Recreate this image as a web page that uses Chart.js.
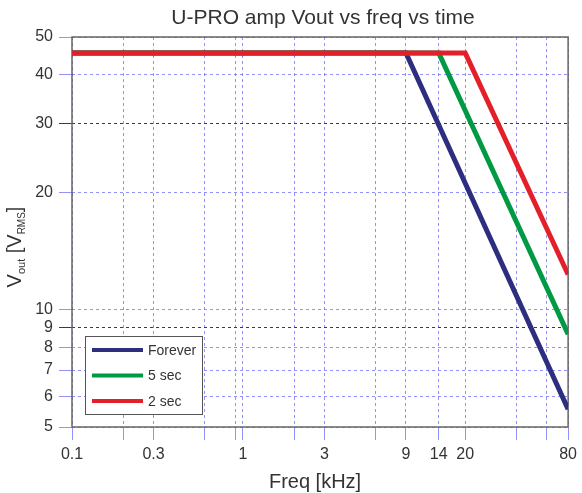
<!DOCTYPE html>
<html>
<head>
<meta charset="utf-8">
<script src="https://cdn.jsdelivr.net/npm/chart.js@4"></script>
<style>
  html, body { margin: 0; padding: 0; background: #fff; }
  #wrap { width: 582px; height: 493px; }
</style>
</head>
<body>
<div id="wrap"><canvas id="chart" width="582" height="493"></canvas></div>
<script>
// Series data (freq in kHz, Vout in V RMS).
const seriesNames = ["Forever", "5 sec", "2 sec"];
const seriesColors = ["#2e2e80", "#009a44", "#e3202a"];
const foreverFreq = [0.1, 9, 80];
const foreverVout = [45.5, 45.5, 5.55];
const fiveSecFreq = [0.1, 14, 80];
const fiveSecVout = [45.5, 45.5, 8.65];
const twoSecFreq = [0.1, 20, 80];
const twoSecVout = [45.5, 45.5, 12.3];

// Axis ticks and grid.
const xGridValues = [0.1, 0.2, 0.3, 0.6, 0.9, 1, 2, 3, 6, 9, 14, 20, 40, 60, 80];
const xTickLabels = [0.1, 0.3, 1, 3, 9, 14, 20, 80];
const yGridValues = [5, 6, 7, 8, 9, 10, 20, 30, 40, 50];
const yDarkLines = [9, 30];

const FONT = "'Liberation Sans', Arial, sans-serif";
const TEXT = "#333333";

function toPoints(xs, ys) {
	return xs.map((x, i) => ({ x: x, y: ys[i] }));
}

const allSeries = [
	toPoints(foreverFreq, foreverVout),
	toPoints(fiveSecFreq, fiveSecVout),
	toPoints(twoSecFreq, twoSecVout)
];

// Frame, title, axis titles and legend box.
const decorations = {
	id: 'decorations',
	beforeDatasetsDraw(chart) {
		const ctx = chart.ctx;
		const a = chart.chartArea;
		ctx.save();
		ctx.strokeStyle = "#666666";
		ctx.lineWidth = 1.5;
		ctx.strokeRect(a.left, a.top, a.right - a.left, a.bottom - a.top);
		ctx.restore();
	},
	afterDatasetsDraw(chart) {
		const ctx = chart.ctx;
		const a = chart.chartArea;
		ctx.save();
		// Title
		ctx.fillStyle = TEXT;
		ctx.font = "21px " + FONT;
		ctx.textAlign = "center";
		ctx.textBaseline = "middle";
		ctx.fillText("U-PRO amp Vout vs freq vs time", (a.left + a.right) / 2 + 3, 18);

		// X title
		ctx.font = "20px " + FONT;
		ctx.fillText("Freq [kHz]", (a.left + a.right) / 2 - 5, 482);

		// Y title with subscripts, rotated
		ctx.save();
		ctx.translate(21, 247);
		ctx.rotate(-Math.PI / 2);
		ctx.textBaseline = "alphabetic";
		const parts = [
			["V", 20, 0], ["out", 11, 4], [" [V", 20, 0], ["RMS", 10, 4], ["]", 20, 0]
		];
		let total = 0;
		for (const p of parts) { ctx.font = p[1] + "px " + FONT; total += ctx.measureText(p[0]).width; }
		let x = -total / 2;
		ctx.textAlign = "left";
		for (const p of parts) {
			ctx.font = p[1] + "px " + FONT;
			ctx.fillText(p[0], x, p[2]);
			x += ctx.measureText(p[0]).width;
		}
		ctx.restore();

		// Legend box
		const bx = 85, by = 336, bw = 117, bh = 78;
		ctx.fillStyle = "#ffffff";
		ctx.fillRect(bx, by, bw, bh);
		ctx.strokeStyle = "#555555";
		ctx.lineWidth = 1;
		ctx.strokeRect(bx + 0.5, by + 0.5, bw, bh);
		ctx.font = "14px " + FONT;
		ctx.textAlign = "left";
		chart.data.datasets.forEach((ds, i) => {
			const ly = by + 14 + i * 25.5;
			ctx.strokeStyle = ds.borderColor;
			ctx.lineWidth = 4;
			ctx.beginPath();
			ctx.moveTo(bx + 7, ly);
			ctx.lineTo(bx + 58, ly);
			ctx.stroke();
			ctx.fillStyle = TEXT;
			ctx.fillText(ds.label, bx + 63, ly + 1);
		});
		ctx.restore();
	}
};

new Chart(document.getElementById('chart'), {
	type: 'line',
	data: {
		datasets: allSeries.map((pts, i) => ({
			label: seriesNames[i],
			data: pts,
			borderColor: seriesColors[i],
			backgroundColor: seriesColors[i],
			borderWidth: 5,
			pointRadius: 0,
			fill: false,
			tension: 0,
			order: 3 - i
		}))
	},
	options: {
		responsive: false,
		animation: false,
		layout: { padding: { left: 0, right: 10, top: 37, bottom: 0 } },
		plugins: {
			legend: { display: false },
			title: { display: false },
			tooltip: { enabled: false }
		},
		scales: {
			x: {
				type: 'logarithmic',
				min: 0.1,
				max: 80,
				afterBuildTicks(scale) {
					scale.ticks = xGridValues.map(v => ({ value: v }));
				},
				afterFit(scale) { scale.height = 66; },
				ticks: {
					autoSkip: false,
					maxRotation: 0,
					padding: 5,
					color: TEXT,
					font: { family: FONT, size: 16 },
					callback: v => xTickLabels.includes(v) ? String(v) : ''
				},
				grid: {
					color: "rgba(100, 100, 255, 0.7)",
					lineWidth: 1,
					tickLength: 13
				},
				border: { display: false, dash: [3, 3] }
			},
			y: {
				type: 'logarithmic',
				min: 5,
				max: 50,
				afterBuildTicks(scale) {
					scale.ticks = yGridValues.map(v => ({ value: v }));
				},
				afterFit(scale) { scale.width = 72; },
				ticks: {
					autoSkip: false,
					padding: 6,
					color: TEXT,
					font: { family: FONT, size: 16 },
					callback: v => String(v)
				},
				grid: {
					color: ctx => yDarkLines.includes(ctx.tick && ctx.tick.value) ? "#2626d8" : "rgba(100, 100, 255, 0.7)",
					lineWidth: 1,
					tickLength: 13
				},
				border: { display: false, dash: [3, 3] }
			}
		}
	},
	plugins: [decorations]
});
</script>
</body>
</html>
